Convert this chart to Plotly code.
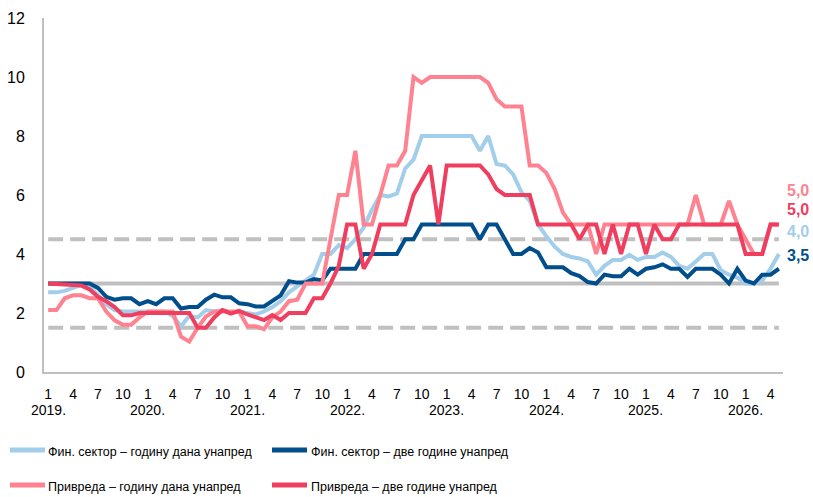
import plotly.graph_objects as go

# ---------------- data ----------------
months = list(range(89))  # Jan 2019 .. May 2026
tick_pos = list(range(0, 89, 3))
tick_text = ["1", "4", "7", "10"] * 8
years = ["2019.", "2020.", "2021.", "2022.", "2023.", "2024.", "2025.", "2026."]
year_pos = [0, 12, 24, 36, 48, 60, 72, 84]

fin_1y = [2.7, 2.7, 2.75, 2.85, 2.95, 2.9, 2.6, 2.3, 2.1, 2.05, 2.05, 2.05,
          2.05, 2.05, 2.05, 1.9, 1.55, 1.9, 1.85, 2.1, 2.05, 2.1, 2.0, 2.05,
          2.0, 1.95, 2.05, 2.2, 2.4, 2.7, 2.9, 3.1, 3.3, 4.0, 4.0, 4.3,
          4.2, 4.5, 4.9, 5.5, 6.0, 5.95, 6.05, 6.9, 7.2, 8.0, 8.0, 8.0,
          8.0, 8.0, 8.0, 8.0, 7.5, 8.0, 7.05, 7.0, 6.7, 6.1, 5.8, 5.0,
          4.6, 4.25, 4.0, 3.9, 3.85, 3.75, 3.3, 3.6, 3.8, 3.8, 3.97, 3.8,
          3.9, 3.9, 4.05, 3.9, 3.6, 3.5, 3.75, 4.0, 4.0, 3.45, 3.3, 3.2,
          3.0, 3.0, 3.1, 3.5, 4.0]
fin_2y = [3.0, 3.0, 3.0, 3.0, 3.0, 3.0, 2.85, 2.55, 2.45, 2.5, 2.5, 2.3,
          2.4, 2.3, 2.5, 2.5, 2.15, 2.2, 2.2, 2.45, 2.62, 2.53, 2.53, 2.33,
          2.3, 2.22, 2.22, 2.4, 2.6, 3.08, 3.03, 3.03, 3.15, 3.1, 3.5, 3.5,
          3.5, 3.5, 4.0, 4.0, 4.0, 4.0, 4.0, 4.5, 4.5, 5.0, 5.0, 5.0,
          5.0, 5.0, 5.0, 5.0, 4.5, 5.0, 5.0, 4.5, 4.0, 4.0, 4.2, 4.05,
          3.55, 3.55, 3.55, 3.35, 3.25, 3.05, 3.0, 3.3, 3.25, 3.25, 3.5, 3.3,
          3.5, 3.55, 3.65, 3.5, 3.5, 3.22, 3.5, 3.5, 3.5, 3.3, 3.0, 3.5,
          3.1, 3.0, 3.3, 3.3, 3.5]
priv_1y = [2.1, 2.1, 2.5, 2.6, 2.6, 2.5, 2.5, 2.05, 1.75, 1.6, 1.6, 1.85,
           2.05, 2.05, 2.05, 2.05, 1.2, 1.03, 1.5, 1.88, 2.05, 2.05, 2.05, 2.05,
           1.55, 1.55, 1.45, 1.85, 2.05, 2.4, 2.45, 3.0, 3.0, 3.0, 4.5, 6.0,
           6.0, 7.5, 5.0, 5.0, 6.0, 7.0, 7.0, 7.5, 10.0, 9.8, 10.0, 10.0,
           10.0, 10.0, 10.0, 10.0, 10.0, 9.8, 9.25, 9.0, 9.0, 9.0, 7.0, 7.0,
           6.75, 6.2, 5.4, 5.0, 5.0, 5.0, 4.0, 5.0, 5.0, 5.0, 5.0, 5.0,
           5.0, 5.0, 5.0, 5.0, 5.0, 5.0, 6.0, 5.0, 5.0, 5.0, 5.8, 5.0,
           4.5, 4.0, 4.0, 5.0, 5.0]
priv_2y = [3.0, 3.0, 2.97, 2.95, 2.93, 2.8, 2.55, 2.4, 2.2, 1.92, 1.92, 2.0,
           2.0, 2.0, 2.0, 2.0, 2.0, 2.0, 1.5, 1.5, 1.85, 2.1, 1.98, 2.07,
           1.95, 1.85, 1.76, 1.93, 1.76, 2.0, 2.0, 2.0, 2.5, 2.5, 3.0, 3.6,
           5.0, 5.0, 3.5, 4.0, 5.0, 5.0, 5.0, 5.0, 6.0, 6.5, 7.0, 5.0,
           7.0, 7.0, 7.0, 7.0, 7.0, 6.7, 6.2, 6.0, 6.0, 6.0, 6.0, 5.0,
           5.0, 5.0, 5.0, 5.0, 4.5, 5.0, 5.0, 4.0, 5.0, 4.0, 5.0, 5.0,
           4.0, 5.0, 4.5, 4.5, 5.0, 5.0, 5.0, 5.0, 5.0, 5.0, 5.0, 5.0,
           4.0, 4.0, 4.0, 5.0, 5.0]

target = 3.0
band_low = 1.5
band_high = 4.5

names = ["Фин. сектор – годину дана унапред", "Фин. сектор – две године унапред",
         "Привреда – годину дана унапред", "Привреда – две године унапред"]
end_labels = ["4,0", "3,5", "5,0", "5,0"]

# ---------------- style ----------------
C_LB = "#A3CEEB"
C_DB = "#004E8C"
C_PK = "#FF8291"
C_RD = "#F03E5F"
C_GR = "#C0C0C0"
colors = [C_LB, C_DB, C_PK, C_RD]
series = [fin_1y, fin_2y, priv_1y, priv_2y]
label_shift = [23, 13, 34, 15]

W, H = 813, 497
L, R, T, B = 44, 30, 18, 125
pw, ph = W - L - R, H - T - B

FONT = "Liberation Sans, Arial, sans-serif"

fig = go.Figure()

# reference lines
fig.add_trace(go.Scatter(x=months, y=[band_high] * len(months), mode="lines",
                         line=dict(color=C_GR, width=4, dash="15px,7px"),
                         hoverinfo="skip", showlegend=False))
fig.add_trace(go.Scatter(x=months, y=[band_low] * len(months), mode="lines",
                         line=dict(color=C_GR, width=4, dash="15px,7px"),
                         hoverinfo="skip", showlegend=False))
fig.add_trace(go.Scatter(x=months, y=[target] * len(months), mode="lines",
                         line=dict(color=C_GR, width=4),
                         hoverinfo="skip", showlegend=False))

for s, c, n in zip(series, colors, names):
    fig.add_trace(go.Scatter(x=months, y=s, mode="lines", name=n,
                             line=dict(color=c, width=4), showlegend=False))

annotations = []
# end labels (right edge kept inside the page)
for s, c, t, sh in zip(series, colors, end_labels, label_shift):
    annotations.append(dict(x=(811 - L) / pw, y=s[-1], xref="paper", yref="y", text=t,
                            showarrow=False, xanchor="right", yanchor="middle",
                            yshift=sh,
                            font=dict(family=FONT, size=16, color=c, weight="bold")))
# year labels
for p, yl in zip(year_pos, years):
    annotations.append(dict(x=p, y=0, xref="x", yref="y", text=yl, showarrow=False,
                            xanchor="center", yanchor="middle", yshift=-38,
                            borderpad=0,
                            font=dict(family=FONT, size=14, color="#000000")))

# manual legend (positions in page pixels)
shapes = []
leg = [(10, 450, 47, 451.5), (272, 450, 310, 451.5), (10, 485, 47, 487), (272, 485, 310, 487)]
for (lx, ly, tx, ty), c, n in zip(leg, colors, names):
    shapes.append(dict(type="line", xref="paper", yref="paper",
                       x0=(lx - L) / pw, x1=(lx + 35 - L) / pw,
                       y0=(T + ph - ly) / ph, y1=(T + ph - ly) / ph,
                       line=dict(color=c, width=5)))
    annotations.append(dict(x=(tx - L) / pw, y=(T + ph - ty) / ph, xref="paper", yref="paper",
                            text=n, showarrow=False, xanchor="left", yanchor="middle",
                            borderpad=0,
                            font=dict(family=FONT, size=12.5, color="#000000")))

fig.update_layout(
    width=W, height=H,
    margin=dict(l=L, r=R, t=T, b=B, pad=0),
    paper_bgcolor="white", plot_bgcolor="white",
    showlegend=False,
    annotations=annotations, shapes=shapes,
    font=dict(family=FONT, size=16, color="#000000"),
)
fig.update_xaxes(range=[-0.5, 88.5], tickmode="array", tickvals=tick_pos, ticktext=tick_text,
                 showgrid=False, zeroline=False, showline=True, linecolor="#BFBFBF", linewidth=2,
                 ticks="", ticklabelstandoff=8, tickfont=dict(family=FONT, size=14),
                 fixedrange=True, automargin=False)
fig.update_yaxes(range=[0, 12], tickvals=[0, 2, 4, 6, 8, 10, 12], showgrid=False,
                 zeroline=False, showline=True, linecolor="#BFBFBF", linewidth=2,
                 ticks="", ticklabelstandoff=14, tickfont=dict(family=FONT, size=16),
                 fixedrange=True, automargin=False)

fig.write_html("out.html", config={"responsive": False, "displayModeBar": False},
               post_script="document.body.style.margin='0px';document.body.style.overflow='hidden';")
